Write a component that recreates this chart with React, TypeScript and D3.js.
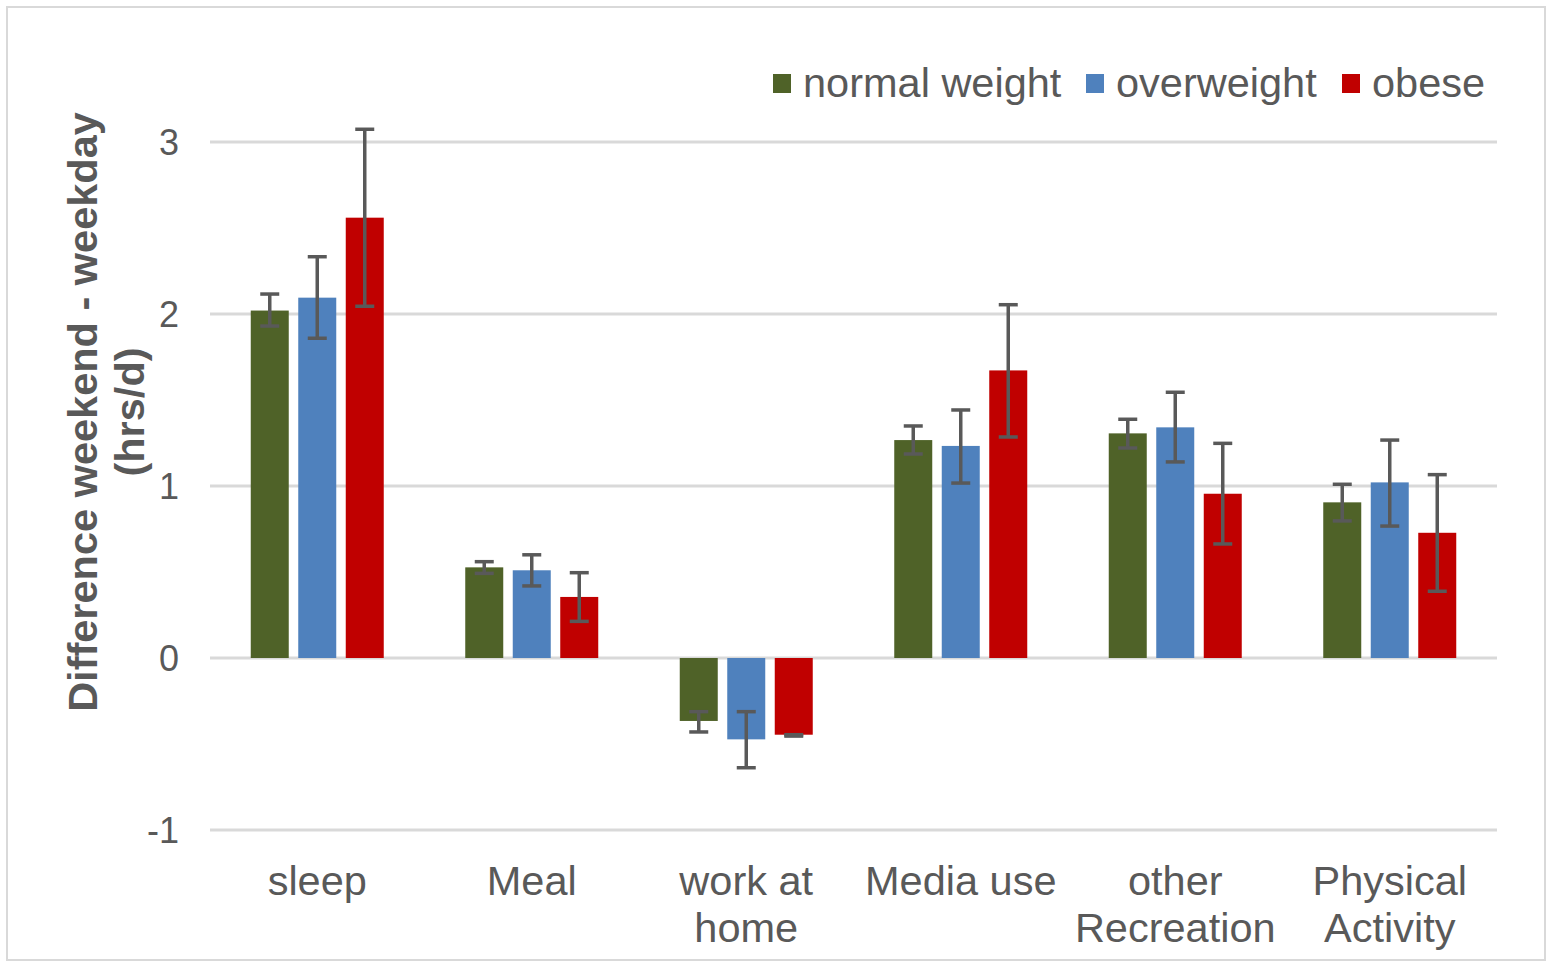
import { useEffect, useRef } from 'react';
import * as d3 from 'd3';

const categories = ['sleep', 'Meal', 'work at home', 'Media use', 'other Recreation', 'Physical Activity'];
const categoryLines = [['sleep'], ['Meal'], ['work at', 'home'], ['Media use'], ['other', 'Recreation'], ['Physical', 'Activity']];
const seriesNames = ['normal weight', 'overweight', 'obese'];
const seriesColors = ['#4f6228', '#4f81bd', '#c00000'];

const normalWeight = [2.02, 0.527, -0.366, 1.267, 1.306, 0.905];
const normalWeightLo = [1.93, 0.492, -0.43, 1.186, 1.221, 0.797];
const normalWeightHi = [2.116, 0.56, -0.312, 1.349, 1.388, 1.01];

const overweight = [2.095, 0.51, -0.473, 1.233, 1.341, 1.021];
const overweightLo = [1.859, 0.419, -0.638, 1.017, 1.14, 0.767];
const overweightHi = [2.333, 0.6, -0.312, 1.442, 1.545, 1.267];

const obese = [2.56, 0.355, -0.446, 1.672, 0.955, 0.728];
const obeseLo = [2.045, 0.213, -0.454, 1.285, 0.663, 0.388];
const obeseHi = [3.074, 0.496, -0.446, 2.054, 1.248, 1.066];

const yTicks = [-1, 0, 1, 2, 3];

const W = 1553;
const H = 968;
const FONT = '"Liberation Sans", Arial, sans-serif';
const TEXT = '#595959';
const FS = 41.5;

export default function App() {
  const svgRef = useRef<SVGSVGElement>(null);

  useEffect(() => {
    if (!svgRef.current) return;
    const svg = d3.select(svgRef.current);
    svg.selectAll('*').remove();

    const values = [normalWeight, overweight, obese];
    const los = [normalWeightLo, overweightLo, obeseLo];
    const his = [normalWeightHi, overweightHi, obeseHi];

    svg
      .append('rect')
      .attr('x', 7)
      .attr('y', 7)
      .attr('width', 1538)
      .attr('height', 953)
      .attr('fill', '#fff')
      .attr('stroke', '#d9d9d9')
      .attr('stroke-width', 2);

    const x0 = d3.scaleBand<string>().domain(categories).range([210, 1497]);
    const groupW = 133;
    const x1 = d3
      .scaleBand<string>()
      .domain(seriesNames)
      .range([0, groupW])
      .paddingInner(0.2);
    const y = d3.scaleLinear().domain([-1, 3]).range([830, 142]);
    const off = (x0.bandwidth() - groupW) / 2;

    // gridlines
    svg
      .append('g')
      .selectAll('line')
      .data(yTicks)
      .enter()
      .append('line')
      .attr('x1', 210)
      .attr('x2', 1497)
      .attr('y1', (d) => y(d))
      .attr('y2', (d) => y(d))
      .attr('stroke', '#d9d9d9')
      .attr('stroke-width', 3);

    // tick labels
    svg
      .append('g')
      .selectAll('text')
      .data(yTicks)
      .enter()
      .append('text')
      .attr('x', 179)
      .attr('y', (d) => y(d) + 12.5)
      .attr('text-anchor', 'end')
      .attr('font-family', FONT)
      .attr('font-size', 36)
      .attr('fill', TEXT)
      .text((d) => String(d));

    // bars
    seriesNames.forEach((s, si) => {
      const g = svg.append('g');
      g.selectAll('rect')
        .data(categories)
        .enter()
        .append('rect')
        .attr('x', (c) => (x0(c) ?? 0) + off + (x1(s) ?? 0))
        .attr('width', x1.bandwidth())
        .attr('y', (_, i) => Math.min(y(values[si][i]), y(0)))
        .attr('height', (_, i) => Math.abs(y(values[si][i]) - y(0)))
        .attr('fill', seriesColors[si]);
    });

    // error bars
    seriesNames.forEach((s, si) => {
      const g = svg.append('g').attr('stroke', TEXT).attr('stroke-width', 3.5);
      categories.forEach((c, i) => {
        const cx = (x0(c) ?? 0) + off + (x1(s) ?? 0) + x1.bandwidth() / 2;
        const yl = y(los[si][i]);
        const yh = y(his[si][i]);
        g.append('line').attr('x1', cx).attr('x2', cx).attr('y1', yl).attr('y2', yh);
        g.append('line').attr('x1', cx - 9.5).attr('x2', cx + 9.5).attr('y1', yl).attr('y2', yl);
        g.append('line').attr('x1', cx - 9.5).attr('x2', cx + 9.5).attr('y1', yh).attr('y2', yh);
      });
    });

    // category labels
    const lab = svg.append('g');
    categories.forEach((c, i) => {
      const cx = (x0(c) ?? 0) + x0.bandwidth() / 2;
      const t = lab
        .append('text')
        .attr('text-anchor', 'middle')
        .attr('font-family', FONT)
        .attr('font-size', FS)
        .attr('fill', TEXT);
      categoryLines[i].forEach((ln, li) => {
        t.append('tspan').attr('x', cx).attr('y', 895 + li * 47).text(ln);
      });
    });

    // y axis title
    const title = svg
      .append('text')
      .attr('transform', 'translate(0,412) rotate(-90)')
      .attr('text-anchor', 'middle')
      .attr('font-family', FONT)
      .attr('font-size', FS)
      .attr('font-weight', 'bold')
      .attr('fill', TEXT);
    title.append('tspan').attr('x', 0).attr('y', 97).text('Difference weekend - weekday');
    title.append('tspan').attr('x', 0).attr('y', 144).text('(hrs/d)');

    // legend
    const legendX = [773, 1086, 1342];
    const leg = svg.append('g');
    seriesNames.forEach((s, si) => {
      leg
        .append('rect')
        .attr('x', legendX[si])
        .attr('y', 74)
        .attr('width', 18)
        .attr('height', 19)
        .attr('fill', seriesColors[si]);
      leg
        .append('text')
        .attr('x', legendX[si] + 30)
        .attr('y', 97)
        .attr('font-family', FONT)
        .attr('font-size', FS)
        .attr('fill', TEXT)
        .text(s);
    });
  }, []);

  return (
    <svg
      ref={svgRef}
      width={W}
      height={H}
      style={{ position: 'absolute', left: 0, top: 0, background: '#fff' }}
    />
  );
}
